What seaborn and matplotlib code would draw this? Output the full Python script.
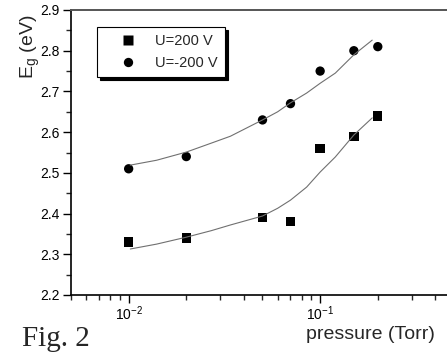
import pandas as pd
import numpy as np
import matplotlib
matplotlib.use('Agg')
import matplotlib.pyplot as plt
import seaborn as sns
from matplotlib.ticker import LogLocator, MultipleLocator

# measured points
pressure = [0.01, 0.02, 0.05, 0.07, 0.1, 0.15, 0.2]
eg_pos = [2.33, 2.34, 2.39, 2.38, 2.56, 2.59, 2.64]   # U=200 V
eg_neg = [2.51, 2.54, 2.63, 2.67, 2.75, 2.80, 2.81]   # U=-200 V

# fitted curves
fit_p = [0.0102, 0.014, 0.02, 0.027, 0.034, 0.05, 0.06, 0.07, 0.085, 0.1, 0.12, 0.15, 0.187]
fit_pos = [2.313, 2.325, 2.342, 2.358, 2.372, 2.394, 2.413, 2.433, 2.465, 2.502, 2.539, 2.593, 2.635]
fit_neg = [2.519, 2.531, 2.551, 2.573, 2.590, 2.630, 2.650, 2.672, 2.696, 2.720, 2.745, 2.790, 2.826]

sns.set_style('ticks')
plt.rcParams['font.family'] = ['Liberation Sans', 'DejaVu Sans']
plt.rcParams['mathtext.fontset'] = 'custom'
plt.rcParams['mathtext.rm'] = 'Liberation Sans'
plt.rcParams['mathtext.it'] = 'Liberation Sans:italic'
plt.rcParams['mathtext.bf'] = 'Liberation Sans:bold'

df = pd.DataFrame({
    'pressure': pressure * 2,
    'Eg': eg_pos + eg_neg,
    'series': ['U=200 V'] * len(pressure) + ['U=-200 V'] * len(pressure),
})
fits = pd.DataFrame({
    'pressure': fit_p * 2,
    'Eg': fit_pos + fit_neg,
    'series': ['pos'] * len(fit_p) + ['neg'] * len(fit_p),
})

fig = plt.figure(figsize=(4.47, 3.52), dpi=100)
ax = fig.add_axes([71 / 447, 1 - 295 / 352, 383 / 447, 285 / 352])
ax.set_xscale('log')

sns.lineplot(data=fits, x='pressure', y='Eg', units='series', estimator=None,
             color='#707070', linewidth=0.8, ax=ax, legend=False)
sns.scatterplot(data=df, x='pressure', y='Eg', style='series', hue='series',
                palette=['black', 'black'], markers={'U=200 V': 's', 'U=-200 V': 'o'},
                s=45, edgecolor='none', ax=ax)

ax.set_xlim(0.005, 0.5)
ax.set_ylim(2.2, 2.9)
ax.yaxis.set_major_locator(MultipleLocator(0.1))
ax.yaxis.set_minor_locator(MultipleLocator(0.05))
ax.xaxis.set_major_locator(LogLocator(base=10, numticks=10))
ax.xaxis.set_minor_locator(LogLocator(base=10, subs=np.arange(2, 10), numticks=10))

ax.tick_params(which='major', direction='out', length=6, width=1, labelsize=10, colors='black')
ax.tick_params(which='minor', direction='out', length=3.5, width=1)
ax.tick_params(axis='x', which='major', pad=1)
ax.tick_params(axis='y', which='major', pad=2)

for side in ['left', 'bottom']:
    ax.spines[side].set_color('black')
    ax.spines[side].set_linewidth(1.2)
ax.spines['top'].set_visible(True)
ax.spines['top'].set_color('#555555')
ax.spines['top'].set_linewidth(1.4)
ax.spines['right'].set_visible(False)

ax.set_xlabel('pressure (Torr)', fontsize=14, loc='right')
ax.xaxis.set_label_coords((435 - 71) / 383, -0.11)
ax.xaxis.label.set_horizontalalignment('right')
ax.set_ylabel('E$_\\mathrm{g}$ (eV)', fontsize=14, loc='top')
ax.yaxis.set_label_coords(-0.075, 0.985)

leg = ax.legend(loc='upper left', bbox_to_anchor=(0.068, 0.94), borderaxespad=0,
                fontsize=10.5, frameon=True, fancybox=False, edgecolor='black',
                shadow={'color': 'black', 'alpha': 1}, handlelength=3.3,
                handletextpad=0.2, borderpad=0.5, labelspacing=0.5)
leg.get_frame().set_linewidth(0.8)

fig.text(22 / 447, 1 - 346 / 352, 'Fig. 2', family='Liberation Serif', fontsize=21)

plt.savefig('out.png', dpi=100)
